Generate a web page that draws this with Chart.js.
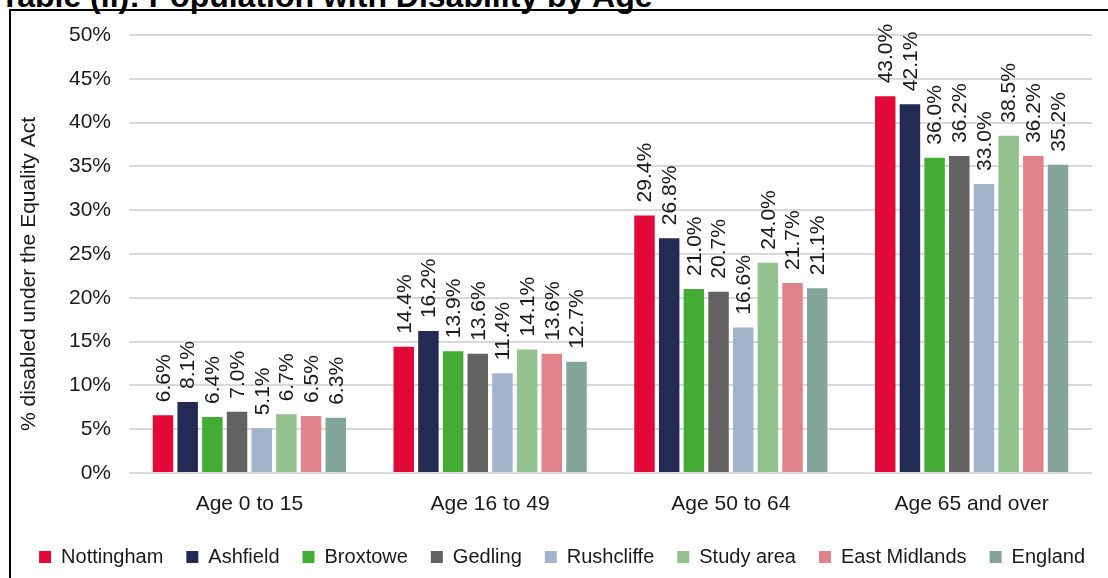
<!DOCTYPE html>
<html>
<head>
<meta charset="utf-8">
<script src="https://cdn.jsdelivr.net/npm/chart.js@4.4.1/dist/chart.umd.min.js"></script>
<style>
  html, body { margin: 0; padding: 0; background: #fff; overflow: hidden; }
  #wrap { position: relative; width: 1108px; height: 578px; }
  #chart { position: absolute; left: 0; top: 0; }
  #frame {
    position: absolute; left: 9px; top: 9px; width: 1130px; height: 620px;
    border: 2px solid #000; pointer-events: none;
  }
  #title {
    position: absolute; left: 0; top: -20px; white-space: nowrap;
    font: bold 32px/32px 'Liberation Sans', Arial, sans-serif; color: #000;
  }
</style>
</head>
<body>
<div id="wrap">
  <div id="title">Table (ii): Population with Disability by Age</div>
  <canvas id="chart" width="1108" height="578"></canvas>
  <div id="frame"></div>
</div>
<script>
const FONT = "'Liberation Sans', Arial, sans-serif";

const ageGroups = ['Age 0 to 15', 'Age 16 to 49', 'Age 50 to 64', 'Age 65 and over'];
const areaNames = ['Nottingham', 'Ashfield', 'Broxtowe', 'Gedling', 'Rushcliffe', 'Study area', 'East Midlands', 'England'];
const areaColors = ['#E20838', '#232B55', '#44AC34', '#626262', '#A2B4CB', '#93C28E', '#E0838A', '#84A59A'];

const nottingham   = [6.6, 14.4, 29.4, 43.0];
const ashfield     = [8.1, 16.2, 26.8, 42.1];
const broxtowe     = [6.4, 13.9, 21.0, 36.0];
const gedling      = [7.0, 13.6, 20.7, 36.2];
const rushcliffe   = [5.1, 11.4, 16.6, 33.0];
const studyArea    = [6.7, 14.1, 24.0, 38.5];
const eastMidlands = [6.5, 13.6, 21.7, 36.2];
const england      = [6.3, 12.7, 21.1, 35.2];

const yTicks = [0, 5, 10, 15, 20, 25, 30, 35, 40, 45, 50];
const yTitle = '% disabled under the Equality Act';

const seriesValues = [nottingham, ashfield, broxtowe, gedling, rushcliffe, studyArea, eastMidlands, england];

// rotated value labels above each bar + y axis title
const barLabels = {
  id: 'barLabels',
  afterDatasetsDraw(chart) {
    const ctx = chart.ctx;
    ctx.save();
    ctx.font = '21px ' + FONT;
    ctx.fillStyle = '#1a1a1a';
    ctx.textAlign = 'left';
    ctx.textBaseline = 'middle';
    chart.data.datasets.forEach((ds, i) => {
      chart.getDatasetMeta(i).data.forEach((bar, j) => {
        ctx.save();
        ctx.translate(bar.x + 1, bar.y - 13);
        ctx.rotate(-Math.PI / 2);
        ctx.fillText(ds.data[j].toFixed(1) + '%', 0, 0);
        ctx.restore();
      });
    });

    ctx.translate(29, 274);
    ctx.rotate(-Math.PI / 2);
    ctx.textAlign = 'center';
    ctx.fillText(yTitle, 0, 0);
    ctx.restore();
  }
};

new Chart(document.getElementById('chart'), {
  type: 'bar',
  data: {
    labels: ageGroups,
    datasets: areaNames.map((name, i) => ({
      label: name,
      data: seriesValues[i],
      backgroundColor: areaColors[i],
      categoryPercentage: 0.82,
      barPercentage: 0.83
    }))
  },
  options: {
    responsive: false,
    animation: false,
    devicePixelRatio: 1,
    layout: { padding: { top: 35, right: 0, left: 8, bottom: 1 } },
    plugins: {
      legend: {
        position: 'bottom',
        align: 'end',
        labels: {
          boxWidth: 12,
          boxHeight: 12,
          padding: 23,
          color: '#1a1a1a',
          font: { family: FONT, size: 20 }
        }
      },
      tooltip: { enabled: false }
    },
    scales: {
      x: {
        grid: { display: false },
        border: { display: false },
        ticks: { color: '#1a1a1a', padding: 11, font: { family: FONT, size: 21 } },
        afterFit: s => { s.height = 51; }
      },
      y: {
        min: 0,
        max: 50,
        afterBuildTicks: s => { s.ticks = yTicks.map(v => ({ value: v })); },
        afterFit: s => { s.width = 121; },
        grid: { color: '#D9D9D9', lineWidth: 2, drawTicks: false },
        border: { display: false },
        ticks: {
          color: '#1a1a1a',
          padding: 18,
          font: { family: FONT, size: 21 },
          callback: v => v + '%'
        }
      },
      // empty spacer on the right so the plot ends where the original does
      yRight: {
        position: 'right',
        grid: { display: false },
        border: { display: false },
        ticks: { display: false },
        afterFit: s => { s.width = 16; }
      }
    }
  },
  plugins: [barLabels]
});
</script>
</body>
</html>
